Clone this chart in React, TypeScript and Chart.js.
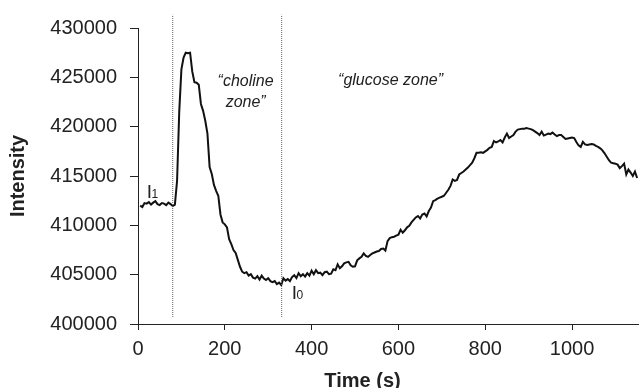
import React, { useEffect, useRef } from "react";
import { Chart, registerables } from "chart.js";

Chart.register(...registerables);

// ---- data ----
const TIME_S = [
  5, 10, 15, 20, 25, 30, 35, 40, 45, 50, 55, 60, 65, 70, 75, 80, 85, 90, 95, 100,
  105, 110, 115, 120, 125, 130, 135, 140, 145, 150, 155, 160, 165, 170, 175, 180, 185, 190, 195, 200,
  205, 210, 215, 220, 225, 230, 235, 240, 245, 250, 255, 260, 265, 270, 275, 280, 285, 290, 295, 300,
  305, 310, 315, 320, 325, 330, 335, 340, 345, 350, 355, 360, 365, 370, 375, 380, 385, 390, 395, 400,
  405, 410, 415, 420, 425, 430, 435, 440, 445, 450, 455, 460, 465, 470, 475, 480, 485, 490, 495, 500,
  505, 510, 515, 520, 525, 530, 535, 540, 545, 550, 555, 560, 565, 570, 575, 580, 585, 590, 595, 600,
  605, 610, 615, 620, 625, 630, 635, 640, 645, 650, 655, 660, 665, 670, 675, 680, 685, 690, 695, 700,
  705, 710, 715, 720, 725, 730, 735, 740, 745, 750, 755, 760, 765, 770, 775, 780, 785, 790, 795, 800,
  805, 810, 815, 820, 825, 830, 835, 840, 845, 850, 855, 860, 865, 870, 875, 880, 885, 890, 895, 900,
  905, 910, 915, 920, 925, 930, 935, 940, 945, 950, 955, 960, 965, 970, 975, 980, 985, 990, 995, 1000,
  1005, 1010, 1015, 1020, 1025, 1030, 1035, 1040, 1045, 1050, 1055, 1060, 1065, 1070, 1075, 1080, 1085, 1090, 1095, 1100,
  1105, 1110, 1115, 1120, 1125, 1130, 1135, 1140, 1145, 1150,
];

const INTENSITY = [
  412000, 411850, 412250, 412200, 412350, 412100, 412300, 412450, 412150, 412050,
  412250, 412200, 412050, 412300, 412150, 411950, 412100, 414500, 421500, 425800,
  427000, 427500, 427450, 427500, 425600, 424500, 424450, 424250, 422300, 421600,
  420600, 419300, 415900, 415200, 414100, 413500, 413000, 411100, 410300, 410100,
  409800, 408600, 408100, 407500, 407200, 406500, 405800, 405300, 405150, 405250,
  404900, 405050, 404700, 404600, 404850, 404500, 404900, 404600, 404450, 404650,
  404350, 404250, 404350, 404050, 404200, 403950, 404650, 404400, 404550, 404350,
  404750, 404950, 404650, 405150, 404850, 405050, 404800, 405150, 404900, 405400,
  405050, 405450, 405150, 405200, 404950, 405250, 405300, 405050, 405100, 405550,
  405450, 406050, 405650, 405850, 406150, 406250, 406300, 405950, 405800, 405850,
  406450, 406650, 406800, 407150, 406900, 406800, 407000, 407150, 407250, 407350,
  407400, 407600, 407650, 407450, 408400, 408700, 408800, 408850, 408950, 409050,
  409550, 409250, 409500, 409800, 409950, 410300, 410550, 410800, 410950, 410700,
  411100, 411200, 410900, 411450, 411800, 412450, 412550, 412700, 412800, 412900,
  413000, 413300, 413600, 414000, 414650, 414500, 414600, 415150, 415300, 415450,
  415650, 415850, 416100, 416350, 416800, 417350, 417350, 417400, 417350, 417500,
  417650, 417850, 417950, 418550, 418400, 418500, 418650, 418400, 418900, 419300,
  418850, 419000, 419150, 419500, 419700, 419750, 419780, 419800, 419850, 419800,
  419750, 419650, 419500, 419350, 419150, 419500, 419100, 419200, 419300, 419250,
  419400, 419200, 419050, 419150, 419150, 418950, 418750, 418800, 418850, 418900,
  418850, 418450, 418100, 417950, 418450, 418200, 418150, 418200, 418250, 418200,
  418050, 417950, 417800, 417600, 417300, 416950, 416600, 416350, 416300, 416250,
  416150, 415800, 416000, 416250, 415150, 415650, 415350, 415000, 415450, 414800,
];

const X_TICKS = [0, 200, 400, 600, 800, 1000];
const Y_TICKS = [400000, 405000, 410000, 415000, 420000, 425000, 430000];
const X_MIN = 0;
const X_MAX = 1152;
const Y_MIN = 400000;
const Y_MAX = 430000;

// zone separators (time, s) and their vertical extent (intensity)
const ZONE_LINES_T = [80, 331];
const ZONE_LINE_RANGE = [400710, 431350];

// annotation texts and their anchors in data units
const ANNOT_TEXT = ["\u201Ccholine", "zone\u201D", "\u201Cglucose zone\u201D"];
const ANNOT_T = [248, 248, 461];
const ANNOT_V = [424140, 422010, 424240];

const MARK_MAIN = ["I", "I"];
const MARK_SUB = ["1", "0"];
const MARK_T = [20, 354];
const MARK_V = [412730, 402580];

const FONT = '"Liberation Sans", Arial, Helvetica, sans-serif';
const INK = "#222";

const textPlugin = {
  id: "annotTexts",
  afterDraw(chart: any) {
    const ctx = chart.ctx as CanvasRenderingContext2D;
    const xs = chart.scales.x;
    const ys = chart.scales.y;
    const area = chart.chartArea;
    ctx.save();
    ctx.fillStyle = INK;
    ctx.textBaseline = "alphabetic";

    // zone annotations
    ctx.font = `italic 16px ${FONT}`;
    ctx.textAlign = "center";
    ctx.fillText(ANNOT_TEXT[0], xs.getPixelForValue(ANNOT_T[0]), ys.getPixelForValue(ANNOT_V[0]));
    ctx.fillText(ANNOT_TEXT[1], xs.getPixelForValue(ANNOT_T[1]), ys.getPixelForValue(ANNOT_V[1]));
    ctx.textAlign = "left";
    ctx.fillText(ANNOT_TEXT[2], xs.getPixelForValue(ANNOT_T[2]), ys.getPixelForValue(ANNOT_V[2]));

    // I1 / I0 markers
    for (let i = 0; i < MARK_MAIN.length; i++) {
      const px = xs.getPixelForValue(MARK_T[i]);
      const py = ys.getPixelForValue(MARK_V[i]);
      ctx.font = `19px ${FONT}`;
      ctx.fillText(MARK_MAIN[i], px, py);
      const w = ctx.measureText(MARK_MAIN[i]).width;
      ctx.font = `12px ${FONT}`;
      ctx.fillText(MARK_SUB[i], px + w - 0.5, py);
    }

    // axis titles
    ctx.font = `bold 20px ${FONT}`;
    ctx.textAlign = "center";
    ctx.fillText("Time (s)", area.left + 224.5, 386.5);
    ctx.save();
    ctx.translate(23.5, (area.top + area.bottom) / 2);
    ctx.rotate(-Math.PI / 2);
    ctx.fillText("Intensity", 0, 0);
    ctx.restore();

    ctx.restore();
  },
};

export default function App() {
  const canvasRef = useRef<HTMLCanvasElement | null>(null);

  useEffect(() => {
    document.body.style.margin = "0";
    const canvas = canvasRef.current;
    if (!canvas) return;

    const series = TIME_S.map((t, i) => ({ x: t, y: INTENSITY[i] }));
    const zoneSets = ZONE_LINES_T.map((t) => ({
      data: [
        { x: t, y: ZONE_LINE_RANGE[0] },
        { x: t, y: ZONE_LINE_RANGE[1] },
      ],
      borderColor: "#666",
      borderWidth: 1,
      borderDash: [1, 1],
      pointRadius: 0,
      clip: false as any,
      fill: false,
    }));

    const chart = new Chart(canvas, {
      type: "line",
      data: {
        datasets: [
          ...zoneSets,
          {
            data: series,
            borderColor: "#111",
            borderWidth: 2,
            pointRadius: 0,
            tension: 0,
            fill: false,
          },
        ],
      },
      options: {
        animation: false,
        responsive: false,
        devicePixelRatio: 1,
        events: [],
        layout: { padding: { top: 28, right: 2, left: 0, bottom: 0 } },
        plugins: {
          legend: { display: false },
          tooltip: { enabled: false },
          title: { display: false },
        },
        scales: {
          x: {
            type: "linear",
            min: X_MIN,
            max: X_MAX,
            border: { display: true, color: INK, width: 1 },
            grid: {
              drawOnChartArea: false,
              drawTicks: true,
              tickLength: 6,
              color: INK,
              tickColor: INK,
            },
            ticks: {
              color: INK,
              font: { size: 20, family: FONT },
              padding: 7,
              maxRotation: 0,
              autoSkip: false,
              callback: (v: any) => String(v),
            },
            afterBuildTicks: (s: any) => {
              s.ticks = X_TICKS.map((v) => ({ value: v }));
            },
            afterFit: (s: any) => {
              s.height = 64;
            },
          },
          y: {
            type: "linear",
            min: Y_MIN,
            max: Y_MAX,
            border: { display: true, color: INK, width: 1 },
            grid: {
              drawOnChartArea: false,
              drawTicks: true,
              tickLength: 8,
              color: INK,
              tickColor: INK,
            },
            ticks: {
              color: INK,
              font: { size: 20, family: FONT },
              padding: 13,
              autoSkip: false,
              callback: (v: any) => String(v),
            },
            afterBuildTicks: (s: any) => {
              s.ticks = Y_TICKS.map((v) => ({ value: v }));
            },
            afterFit: (s: any) => {
              s.width = 138;
            },
          },
        },
      },
      plugins: [textPlugin],
    });

    return () => chart.destroy();
  }, []);

  return (
    <div style={{ position: "fixed", left: 0, top: 0, width: 640, height: 388, background: "#fff" }}>
      <canvas ref={canvasRef} width={640} height={388} style={{ display: "block" }} />
    </div>
  );
}
